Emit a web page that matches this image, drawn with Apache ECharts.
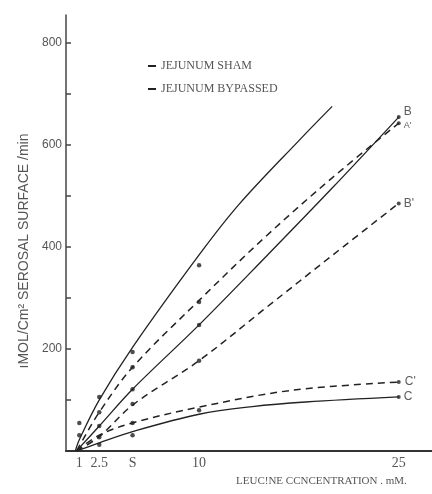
<!DOCTYPE html>
<html><head><meta charset="utf-8">
<script src="https://cdn.jsdelivr.net/npm/echarts@6/dist/echarts.min.js"></script>
<style>html,body{margin:0;padding:0;background:#fff}#c{width:432px;height:494px}</style>
</head><body><div id="c"></div>
<script>
// Curve values (fitted lines)
const aX  = [0.7, 1, 2.5, 5, 10, 13, 17.5, 20];
const aY  = [0, 22, 100, 203, 384, 483, 608, 675];
const apX = [0.8, 1, 2.5, 5, 10, 15, 20, 25];
const apY = [0, 10, 76, 164, 295, 420, 535, 642];
const bX  = [0.8, 1, 2.5, 5, 10, 15, 20, 25];
const bY  = [0, 6, 49, 121, 247, 380, 515, 654];
const bpX = [0.8, 2.5, 5, 10, 15, 20, 25];
const bpY = [0, 28, 90, 177, 280, 383, 485];
const cpX = [0.8, 2.5, 5, 10, 17, 25];
const cpY = [0, 31, 55, 86, 119, 135];
const cX  = [0.8, 2.5, 5, 10, 14, 18, 25];
const cY  = [0, 16, 38, 72, 87, 96, 106];
// Measured points
const ptX = [1, 1, 2.5, 2.5, 2.5, 2.5, 2.5, 5, 5, 5, 5, 5, 5, 10, 10, 10, 10, 10];
const ptY = [55, 31, 106, 76, 49, 27, 12, 194, 164, 121, 92, 55, 31, 364, 292, 247, 177, 80];
// End points with curve labels
const endNames = ['B', "A'", "B'", "C'", 'C'];
const endX = [25, 25, 25, 25, 25];
const endY = [654, 642, 485, 135, 106];
// Tick labels
const xTickValues = [1, 2.5, 5, 10, 25];
const xTickLabels = ['1', '2.5', 'S', '10', '25'];
const yTickValues = [200, 400, 600, 800];
const yMinorTicks = [100, 200, 300, 400, 500, 600, 700, 800];

// label styling per end label (style only)
const endLabelStyle = [
  {offset: [0, -5], fontSize: 12},
  {offset: [0, 2], fontSize: 9},
  {offset: [0, 0], fontSize: 12},
  {offset: [1, 0], fontSize: 12},
  {offset: [0, 0], fontSize: 12}
];

const SHAM = 'JEJUNUM SHAM', BYP = 'JEJUNUM BYPASSED';
const pairs = (X, Y) => X.map((x, i) => [x, Y[i]]);
const solid = {color: '#222', width: 1.3, type: 'solid'};
const dashed = {color: '#222', width: 1.5, type: [7, 5]};
function curve(name, X, Y, ls) {
  return {type: 'line', name, data: pairs(X, Y), smooth: 0.35, showSymbol: false,
          lineStyle: ls, itemStyle: {color: '#222'}, silent: true, z: 2};
}
const chart = echarts.init(document.getElementById('c'), null, {renderer: 'canvas'});
chart.setOption({
  animation: false,
  backgroundColor: '#fff',
  grid: {left: 66, right: 0, top: 15, bottom: 43},
  title: {text: 'LEUC!NE CCNCENTRATION . mM.', left: 231, top: 471,
    textStyle: {fontFamily: 'Liberation Serif', fontSize: 11, fontWeight: 'normal', color: '#555'}},
  legend: {orient: 'vertical', left: 143, top: 55, itemGap: 11, itemWidth: 8, itemHeight: 2,
    textStyle: {fontFamily: 'Liberation Serif', fontSize: 12, color: '#555'},
    data: [{name: SHAM, icon: 'rect'}, {name: BYP, icon: 'rect'}]},
  xAxis: {type: 'value', min: 0, max: 27.5, splitLine: {show: false},
    axisLine: {lineStyle: {color: '#333', width: 2}},
    axisTick: {show: false},
    axisLabel: {customValues: xTickValues, margin: 5, color: '#555',
      fontFamily: 'Liberation Serif', fontSize: 14,
      formatter: v => xTickLabels[xTickValues.indexOf(v)] ?? ''}},
  yAxis: {type: 'value', min: 0, max: 854, interval: 100, splitLine: {show: false},
    name: 'ıMOL/Cm² SEROSAL SURFACE /min', nameLocation: 'middle', nameGap: 24,
    nameTextStyle: {fontFamily: 'Liberation Sans', fontSize: 14, color: '#555', padding: [0, 36, 0, 0]},
    axisLine: {show: true, lineStyle: {color: '#444', width: 1.5}},
    axisTick: {show: true, inside: true, length: 5, customValues: yMinorTicks, lineStyle: {color: '#444', width: 1.5}},
    axisLabel: {customValues: yTickValues, margin: 4, color: '#555',
      fontFamily: 'Liberation Sans', fontSize: 12}},
  series: [
    curve(SHAM, aX, aY, solid),
    curve(BYP, apX, apY, dashed),
    curve(SHAM, bX, bY, solid),
    curve(BYP, bpX, bpY, dashed),
    curve(BYP, cpX, cpY, dashed),
    curve(SHAM, cX, cY, solid),
    {type: 'scatter', data: pairs(ptX, ptY), symbolSize: 4.5, itemStyle: {color: '#222'}, z: 3, silent: true},
    {type: 'scatter', data: endX.map((x, i) => ({value: [x, endY[i]], name: endNames[i], label: endLabelStyle[i]})),
      symbolSize: 4, itemStyle: {color: '#222'}, z: 3, silent: true,
      label: {show: true, position: 'right', distance: 3, formatter: p => p.name,
        color: '#333', fontFamily: 'Liberation Sans', fontSize: 12}}
  ]
});
</script></body></html>
